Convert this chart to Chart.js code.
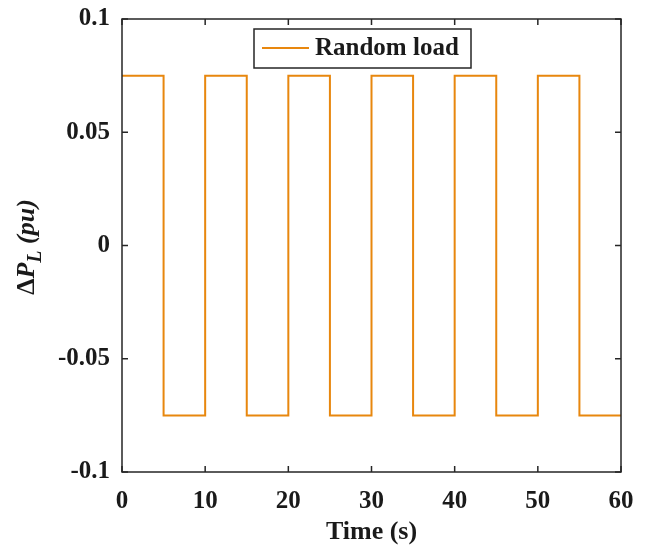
<!DOCTYPE html>
<html>
<head>
<meta charset="utf-8">
<script src="https://cdn.jsdelivr.net/npm/chart.js@4.4.1/dist/chart.umd.min.js"></script>
<style>
  html, body { margin: 0; padding: 0; background: #fff; }
  #wrap { width: 651px; height: 548px; }
</style>
</head>
<body>
<div id="wrap"><canvas id="loadChart" width="651" height="548"></canvas></div>
<script>
// step load profile: value holds from each switch time until the next one
const switchTimes = [0, 5, 10, 15, 20, 25, 30, 35, 40, 45, 50, 55, 60];
const loadLevels = [0.075, -0.075, 0.075, -0.075, 0.075, -0.075, 0.075, -0.075, 0.075, -0.075, 0.075, -0.075, -0.075];
const xTickValues = [0, 10, 20, 30, 40, 50, 60];
const yTickValues = [-0.1, -0.05, 0, 0.05, 0.1];
const seriesName = "Random load";

const serif = "'Liberation Serif', 'Times New Roman', serif";
const lineColor = "#E8870E";
const frameColor = "#262626";

const points = switchTimes.map((t, i) => ({ x: t, y: loadLevels[i] }));

// frame, inward ticks, axis titles and legend box
const decorations = {
  id: "decorations",
  afterDraw(chart) {
    const ctx = chart.ctx;
    const area = chart.chartArea;
    const xs = chart.scales.x;
    const ys = chart.scales.y;
    const tick = 6;

    ctx.save();
    ctx.strokeStyle = frameColor;
    ctx.lineWidth = 1.5;
    ctx.strokeRect(area.left, area.top, area.right - area.left, area.bottom - area.top);

    ctx.beginPath();
    xTickValues.forEach(v => {
      const px = xs.getPixelForValue(v);
      ctx.moveTo(px, area.bottom); ctx.lineTo(px, area.bottom - tick);
      ctx.moveTo(px, area.top); ctx.lineTo(px, area.top + tick);
    });
    yTickValues.forEach(v => {
      const py = ys.getPixelForValue(v);
      ctx.moveTo(area.left, py); ctx.lineTo(area.left + tick, py);
      ctx.moveTo(area.right, py); ctx.lineTo(area.right - tick, py);
    });
    ctx.stroke();

    // x title
    ctx.fillStyle = "#1a1a1a";
    ctx.font = "bold 26px " + serif;
    ctx.textAlign = "center";
    ctx.textBaseline = "alphabetic";
    ctx.fillText("Time (s)", (area.left + area.right) / 2, 539);

    // y title: ΔP_L (pu), rotated
    const parts = [
      { t: "\u0394", f: "bold 26px " + serif, dy: 0 },
      { t: "P", f: "italic bold 26px " + serif, dy: 0 },
      { t: "L", f: "italic bold 20px " + serif, dy: 7 },
      { t: " (pu)", f: "italic bold 26px " + serif, dy: 0 }
    ];
    let total = 0;
    parts.forEach(p => { ctx.font = p.f; p.w = ctx.measureText(p.t).width; total += p.w; });
    ctx.translate(34, 247);
    ctx.rotate(-Math.PI / 2);
    ctx.textAlign = "left";
    let cx = -total / 2;
    parts.forEach(p => {
      ctx.font = p.f;
      ctx.fillText(p.t, cx, p.dy);
      cx += p.w;
    });
    ctx.setTransform(1, 0, 0, 1, 0, 0);

    // legend box
    const lx = 254, ly = 29, lw = 217, lh = 39;
    ctx.fillStyle = "#fff";
    ctx.fillRect(lx, ly, lw, lh);
    ctx.strokeStyle = frameColor;
    ctx.lineWidth = 1.5;
    ctx.strokeRect(lx, ly, lw, lh);
    ctx.strokeStyle = lineColor;
    ctx.lineWidth = 2;
    ctx.beginPath();
    ctx.moveTo(262, 48);
    ctx.lineTo(309, 48);
    ctx.stroke();
    ctx.fillStyle = "#1a1a1a";
    ctx.font = "bold 25px " + serif;
    ctx.textAlign = "left";
    ctx.textBaseline = "middle";
    ctx.fillText(seriesName, 315, 49);
    ctx.restore();
  }
};

new Chart(document.getElementById("loadChart"), {
  type: "line",
  data: {
    datasets: [{
      label: seriesName,
      data: points,
      stepped: "before",
      borderColor: lineColor,
      borderWidth: 2,
      pointRadius: 0,
      fill: false
    }]
  },
  options: {
    responsive: false,
    animation: false,
    layout: { padding: { top: 12, right: 30, left: 0, bottom: 0 } },
    plugins: {
      legend: { display: false },
      tooltip: { enabled: false }
    },
    scales: {
      x: {
        type: "linear",
        min: 0,
        max: 60,
        afterBuildTicks: s => { s.ticks = xTickValues.map(v => ({ value: v })); },
        afterFit: s => { s.height = 76; },
        grid: { display: false },
        border: { display: false },
        ticks: {
          padding: 7,
          color: "#1a1a1a",
          font: { family: serif, size: 25, weight: "bold" },
          maxRotation: 0
        }
      },
      y: {
        min: -0.1,
        max: 0.1,
        afterBuildTicks: s => { s.ticks = yTickValues.map(v => ({ value: v })); },
        afterFit: s => { s.width = 122; },
        grid: { display: false },
        border: { display: false },
        ticks: {
          padding: 4,
          color: "#1a1a1a",
          font: { family: serif, size: 25, weight: "bold" },
          callback: v => String(+v.toFixed(2))
        }
      }
    }
  },
  plugins: [decorations]
});
</script>
</body>
</html>
